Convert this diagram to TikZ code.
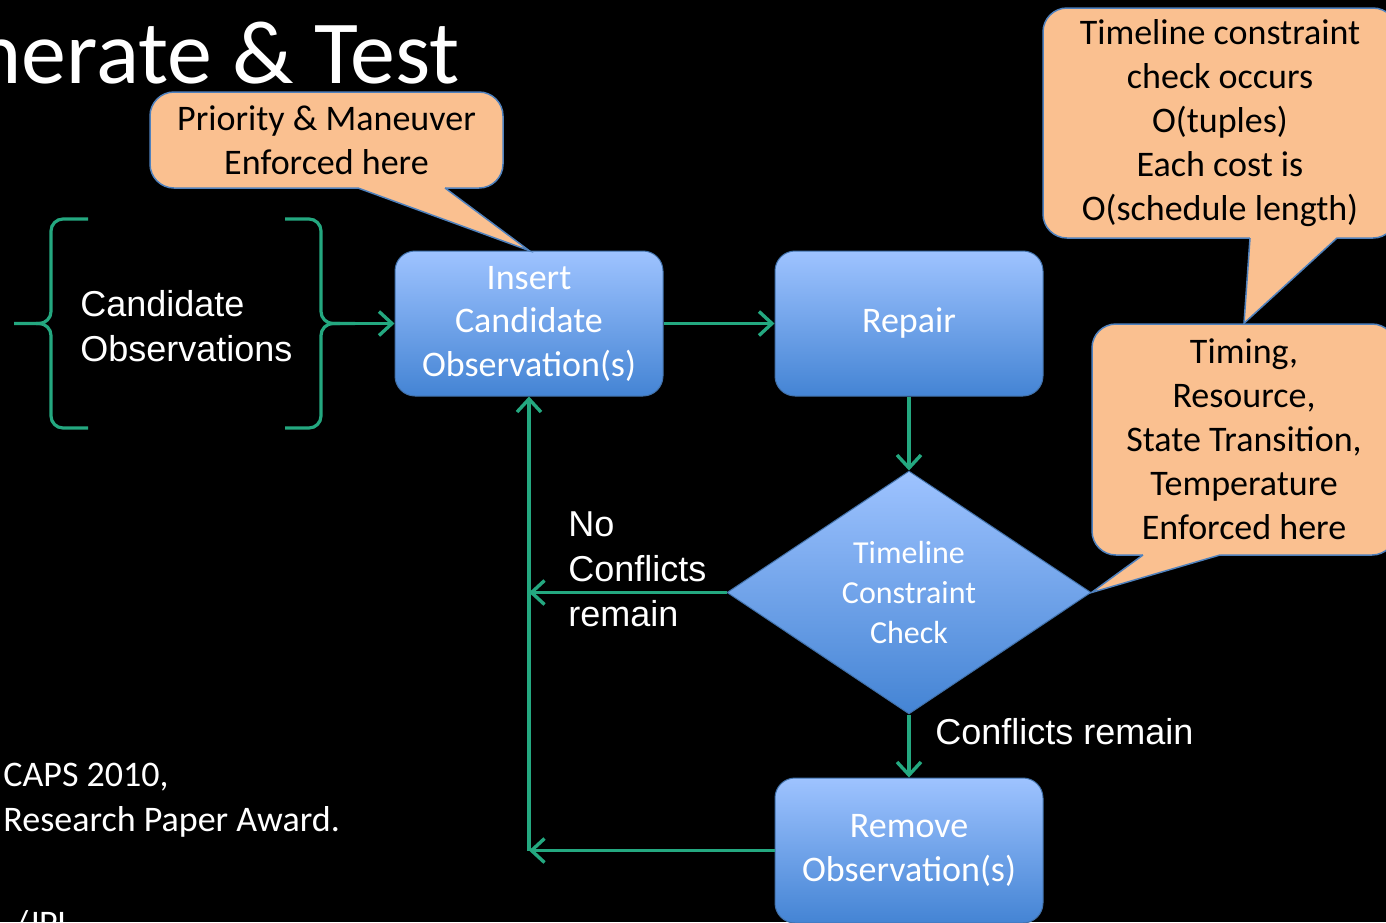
\documentclass[tikz,border=0pt]{standalone}
\usepackage{fontspec}
\setmainfont{Carlito}
\newfontfamily\arialfont{Liberation Sans}
\usetikzlibrary{arrows.meta,positioning,shapes.geometric}
\definecolor{boxtop}{RGB}{158,195,255}
\definecolor{boxbot}{RGB}{68,132,212}
\definecolor{boxline}{RGB}{65,113,170}
\definecolor{peach}{RGB}{250,192,144}
\definecolor{peachline}{RGB}{79,129,189}
\definecolor{flowgreen}{RGB}{36,168,128}
\tikzset{box/.style={draw=boxline, line width=0.5pt, rounded corners=10pt, align=center, top color=boxtop, bottom color=boxbot, text=white, minimum width=134pt, minimum height=72.5pt, inner sep=2pt, font=\fontsize{18}{21.75}\selectfont}, dbox/.style={diamond, aspect=1.5, draw=boxline, line width=0.5pt, align=center, top color=boxtop, bottom color=boxbot, text=white, minimum width=182pt, minimum height=121.5pt, inner sep=0pt, font=\fontsize{16}{20}\selectfont}, cbox/.style={draw=peachline, line width=0.75pt, fill=peach, rounded corners=12pt, align=center, inner sep=0pt, font=\fontsize{18}{22}\selectfont}, lbl/.style={text=white, align=left, inner sep=0pt, font=\arialfont\fontsize{18}{22.5}\selectfont}, note/.style={text=white, align=left, inner sep=0pt, font=\fontsize{18}{22.5}\selectfont}, edge/.style={draw=flowgreen, line width=1.7pt, -{Straight Barb[length=6.5pt,width=12pt]}}, brace/.style={draw=flowgreen, line width=1.6pt, rounded corners=6pt}, ptr/.style={draw=peachline, line width=0.75pt}}

\begin{document}
\begin{tikzpicture}[x=0.5pt,y=-0.5pt]
\fill[black] (0,0) rectangle (1386,922);
\useasboundingbox (0,0) rectangle (1386,922);
\node[anchor=base east,text=white,inner sep=0pt,font=\fontsize{45}{54}\selectfont] (title) at (460,83) {nerate \& Test};
\node[note,anchor=west] (award) at (3,800) {CAPS 2010,\\Research Paper Award.};
\node[note,anchor=base west] (jpl) at (14,935) {/JPL};
\node[box] (insert) at (529,323.5) {Insert\\Candidate\\Observation(s)};
\node[box,right=55.5pt of insert] (repair) {Repair};
\node[dbox,below=37pt of repair] (check) {Timeline\\Constraint\\Check};
\node[box,below=31.5pt of check] (remove) {Remove\\Observation(s)};
\node[lbl,anchor=west] (cand) at (80,326.5) {Candidate\\Observations};
\draw[brace] (88,219) -| (51,323.5) -- (14,323.5); \draw[brace] (88,428) -| (51,323.5) -- (36,323.5);
\draw[brace] (285,219) -| (321,323.5) -- (355,323.5); \draw[brace] (285,428) -| (321,323.5) -- (340,323.5);
\coordinate (candtip) at (355,323.5);
\coordinate (join) at (insert.south |- check.west); \coordinate (corner) at (insert.south |- remove.west);
\draw[edge] (candtip) -- (insert); \draw[edge] (insert) -- (repair); \draw[edge] (repair) -- (check); \draw[edge] (check) -- (remove);
\draw[edge] (check) -- (join); \draw[edge] (remove) -- (corner); \draw[edge] (corner) -- (insert);
\node[lbl,anchor=west] (nolbl) at (568,569) {No\\Conflicts\\remain};
\node[lbl,anchor=west] (yeslbl) at (935,732) {Conflicts remain};
\node[cbox,minimum width=176.5pt,minimum height=48pt] (prio) at (326.5,140) {Priority \& Maneuver\\Enforced here};
\node[cbox,minimum width=177pt,minimum height=115pt] (cost) at (1220,123) {Timeline constraint\\check occurs\\O(tuples)\\Each cost is\\O(schedule length)};
\node[cbox,minimum width=152pt,minimum height=115.5pt] (enf) at (1244,439.5) {Timing,\\Resource,\\State Transition,\\Temperature\\Enforced here};
\fill[peach] (358,185) -- (358,188) -- (insert.north) -- (445,188) -- (445,185) -- cycle; \draw[ptr] (358,188) -- (insert.north) -- (445,188);
\fill[peach] (1250,235) -- (1250,238) -- (enf.north) -- (1337,238) -- (1337,235) -- cycle; \draw[ptr] (1250,238) -- (enf.north) -- (1337,238);
\fill[peach] (1143,552) -- (1143,555) -- (check.east) -- (1220,555) -- (1220,552) -- cycle; \draw[ptr] (1143,555) -- (check.east) -- (1220,555);
\end{tikzpicture}
\end{document}
